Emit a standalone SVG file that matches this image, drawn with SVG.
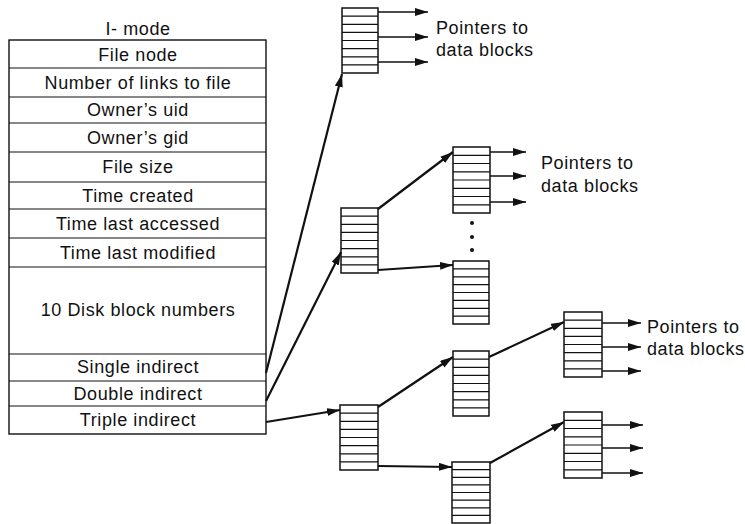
<svg xmlns="http://www.w3.org/2000/svg" width="745" height="524" viewBox="0 0 745 524">
<style>
text{font-family:"Liberation Sans",Arial,sans-serif;font-size:18px;fill:#111;letter-spacing:0.6px}
.c{text-anchor:middle}
.tbl{fill:#fff;stroke:#111;stroke-width:1.4}
.blk{fill:#fff;stroke:#111;stroke-width:1.5}
.row{stroke:#111;stroke-width:1.2}
.arr{stroke:#111;stroke-width:2.2;fill:none;marker-end:url(#ah)}
.ptr{stroke:#111;stroke-width:1.6;fill:none;marker-end:url(#ah)}
</style>
<defs>
<marker id="ah" markerUnits="userSpaceOnUse" markerWidth="14" markerHeight="10" refX="13" refY="4" orient="auto">
<path d="M0,0 L13,4 L0,8 z" fill="#111"/>
</marker>
</defs>
<rect width="745" height="524" fill="#fff"/>
<g id="inode">
<text class="c" x="138" y="35">I- mode</text>
<rect class="tbl" x="9" y="40" width="257" height="394"/>
<g class="row">
<line x1="9" y1="68" x2="266" y2="68"/>
<line x1="9" y1="97" x2="266" y2="97"/>
<line x1="9" y1="123" x2="266" y2="123"/>
<line x1="9" y1="152" x2="266" y2="152"/>
<line x1="9" y1="182" x2="266" y2="182"/>
<line x1="9" y1="209" x2="266" y2="209"/>
<line x1="9" y1="238" x2="266" y2="238"/>
<line x1="9" y1="267" x2="266" y2="267"/>
<line x1="9" y1="354" x2="266" y2="354"/>
<line x1="9" y1="381" x2="266" y2="381"/>
<line x1="9" y1="406" x2="266" y2="406"/>
</g>
<text class="c" x="138" y="61">File node</text>
<text class="c" x="138" y="89">Number of links to file</text>
<text class="c" x="138" y="116">Owner’s uid</text>
<text class="c" x="138" y="144">Owner’s gid</text>
<text class="c" x="138" y="173">File size</text>
<text class="c" x="138" y="202">Time created</text>
<text class="c" x="138" y="230">Time last accessed</text>
<text class="c" x="138" y="259">Time last modified</text>
<text class="c" x="138" y="316">10 Disk block numbers</text>
<text class="c" x="138" y="373">Single indirect</text>
<text class="c" x="138" y="400">Double indirect</text>
<text class="c" x="138" y="426">Triple indirect</text>
</g>
<g id="b1">
<rect class="blk" x="342" y="8" width="36" height="65"/>
<path class="row" d="M342,16.1H378M342,24.3H378M342,32.4H378M342,40.5H378M342,48.6H378M342,56.8H378M342,64.9H378"/>
</g>
<g id="b2">
<rect class="blk" x="341" y="208" width="37" height="65"/>
<path class="row" d="M341,216.1H378M341,224.3H378M341,232.4H378M341,240.5H378M341,248.6H378M341,256.8H378M341,264.9H378"/>
</g>
<g id="b3">
<rect class="blk" x="453" y="147" width="37" height="66"/>
<path class="row" d="M453,155.3H490M453,163.5H490M453,171.8H490M453,180H490M453,188.3H490M453,196.5H490M453,204.8H490"/>
</g>
<g id="b4">
<rect class="blk" x="453" y="261" width="36" height="63"/>
<path class="row" d="M453,268.9H489M453,276.8H489M453,284.6H489M453,292.5H489M453,300.4H489M453,308.3H489M453,316.1H489"/>
</g>
<g id="b5">
<rect class="blk" x="340" y="405" width="38" height="65"/>
<path class="row" d="M340,413.1H378M340,421.3H378M340,429.4H378M340,437.5H378M340,445.6H378M340,453.8H378M340,461.9H378"/>
</g>
<g id="b6">
<rect class="blk" x="453" y="351" width="36" height="65"/>
<path class="row" d="M453,359.1H489M453,367.3H489M453,375.4H489M453,383.5H489M453,391.6H489M453,399.8H489M453,407.9H489"/>
</g>
<g id="b7">
<rect class="blk" x="452" y="462" width="38" height="61"/>
<path class="row" d="M452,469.6H490M452,477.3H490M452,484.9H490M452,492.5H490M452,500.1H490M452,507.8H490M452,515.4H490"/>
</g>
<g id="b8">
<rect class="blk" x="564" y="312" width="38" height="65"/>
<path class="row" d="M564,320.1H602M564,328.3H602M564,336.4H602M564,344.5H602M564,352.6H602M564,360.8H602M564,368.9H602"/>
</g>
<g id="b9">
<rect class="blk" x="564" y="412" width="38" height="66"/>
<path class="row" d="M564,420.3H602M564,428.5H602M564,436.8H602M564,445H602M564,453.3H602M564,461.5H602M564,469.8H602"/>
</g>
<g id="dots" fill="#111">
<circle cx="472" cy="223" r="2"/>
<circle cx="472" cy="237" r="2"/>
<circle cx="472" cy="250" r="2"/>
</g>
<g id="labels">
<text x="436" y="34">Pointers to</text>
<text x="436" y="56">data blocks</text>
<text x="541" y="169">Pointers to</text>
<text x="541" y="192">data blocks</text>
<text x="647" y="333">Pointers to</text>
<text x="647" y="355">data blocks</text>
</g>
<g id="connectors">
<line class="arr" x1="266" y1="373" x2="342" y2="74"/>
<line class="arr" x1="266" y1="401" x2="341" y2="252"/>
<line class="arr" x1="266" y1="422" x2="340" y2="410"/>
<line class="arr" x1="378" y1="209" x2="453" y2="152"/>
<line class="arr" x1="378" y1="270" x2="453" y2="265"/>
<line class="arr" x1="378" y1="407" x2="453" y2="357"/>
<line class="arr" x1="378" y1="466" x2="452" y2="467"/>
<line class="arr" x1="489" y1="357" x2="564" y2="322"/>
<line class="arr" x1="490" y1="463" x2="564" y2="422"/>
<line class="ptr" x1="378" y1="12" x2="428" y2="12"/>
<line class="ptr" x1="378" y1="37" x2="428" y2="37"/>
<line class="ptr" x1="378" y1="62" x2="428" y2="62"/>
<line class="ptr" x1="490" y1="152" x2="526" y2="152"/>
<line class="ptr" x1="490" y1="176" x2="526" y2="176"/>
<line class="ptr" x1="490" y1="202" x2="526" y2="202"/>
<line class="ptr" x1="602" y1="323" x2="641" y2="323"/>
<line class="ptr" x1="602" y1="347" x2="641" y2="347"/>
<line class="ptr" x1="602" y1="371" x2="641" y2="371"/>
<line class="ptr" x1="602" y1="425" x2="643" y2="425"/>
<line class="ptr" x1="602" y1="448" x2="643" y2="448"/>
<line class="ptr" x1="602" y1="473" x2="643" y2="473"/>
</g>
</svg>
